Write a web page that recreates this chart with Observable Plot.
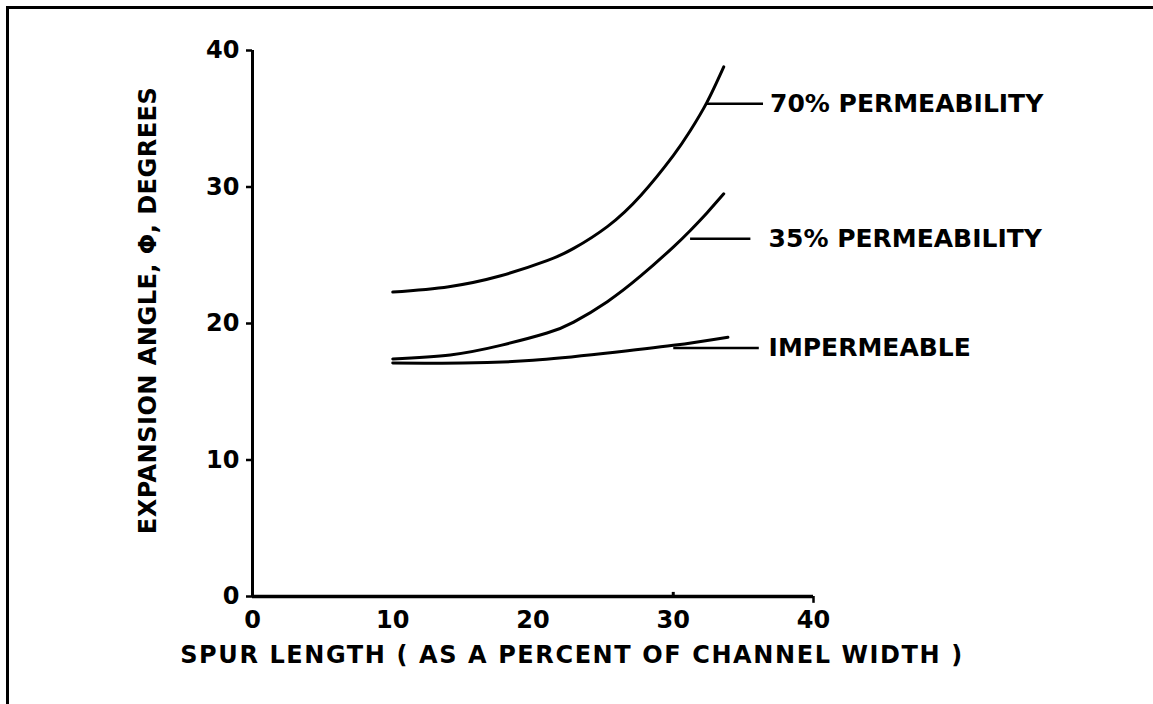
<!DOCTYPE html>
<html>
<head>
<meta charset="utf-8">
<script src="https://cdn.jsdelivr.net/npm/d3@7"></script>
<script src="https://cdn.jsdelivr.net/npm/@observablehq/plot@0.6"></script>
<style>
  html, body { margin: 0; padding: 0; background: #fff; }
  #wrap { position: relative; width: 1153px; height: 704px; overflow: hidden; }
  #border { position: absolute; left: 6px; top: 6px; right: -10px; bottom: -10px;
            border-left: 3px solid #000; border-top: 3px solid #000; pointer-events: none; }
</style>
</head>
<body>
<div id="wrap"><div id="border"></div></div>
<script>
// Data
const x70 = [10, 14, 17.7, 21, 22.9, 25.3, 27.7, 30, 31.2, 32.4, 33.6];
const y70 = [22.3, 22.7, 23.5, 24.6, 25.5, 27.1, 29.4, 32.3, 34.1, 36.2, 38.8];
const x35 = [10, 14.1, 17.7, 21, 22.9, 25.3, 27.7, 30, 31.2, 32.4, 33.6];
const y35 = [17.4, 17.7, 18.4, 19.3, 20.1, 21.6, 23.5, 25.6, 26.8, 28.1, 29.5];
const xImp = [10, 15, 20, 25, 30, 33.9];
const yImp = [17.1, 17.1, 17.3, 17.8, 18.4, 19.0];

const labelNames = ["70% PERMEABILITY", "35% PERMEABILITY", "IMPERMEABLE"];
const leaderX1 = [32.4, 31.2, 30.0];
const leaderX2 = [36.4, 35.5, 36.1];
const leaderY = [36.1, 26.2, 18.2];
const labelX = [36.9, 36.8, 36.8];

const xTicks = [0, 10, 20, 30, 40];
const yTicks = [0, 10, 20, 30, 40];
const xTitle = "SPUR LENGTH ( AS A PERCENT OF CHANNEL WIDTH )";
const yTitle = "EXPANSION ANGLE, \u03A6, DEGREES";

const toPts = (xs, ys) => xs.map((x, i) => ({x, y: ys[i]}));
const series = [toPts(x70, y70), toPts(x35, y35), toPts(xImp, yImp)];
const leaders = labelNames.map((n, i) => ({n, x1: leaderX1[i], x2: leaderX2[i], y: leaderY[i], lx: labelX[i]}));

const font = "'DejaVu Sans', sans-serif";

const chart = Plot.plot({
  width: 1153,
  height: 704,
  marginLeft: 252,
  marginRight: 340,
  marginTop: 50,
  marginBottom: 108,
  style: {fontFamily: font, fontWeight: "bold", fontSize: "24px", color: "#000", background: "transparent", overflow: "visible"},
  x: {domain: [0, 40], ticks: xTicks},
  y: {domain: [0, 40], ticks: yTicks},
  marks: [
    Plot.axisX({ticks: xTicks, tickSize: 0, tickPadding: 14, label: null, fontSize: 24, fontWeight: "bold"}),
    Plot.axisY({ticks: yTicks, tickSize: 6, tickPadding: 7, label: null, fontSize: 24, fontWeight: "bold", strokeWidth: 2.5}),
    Plot.ruleY([0], {x1: 0, x2: 40, stroke: "#000", strokeWidth: 3.5}),
    Plot.ruleX([0], {y1: 0, y2: 40, stroke: "#000", strokeWidth: 3}),
    Plot.ruleX([40], {y1: 0, y2: -0.5, stroke: "#000", strokeWidth: 2.5}),
    Plot.ruleX([30], {y1: 0, y2: 0.3, stroke: "#000", strokeWidth: 3}),
    ...series.map(s => Plot.line(s, {x: "x", y: "y", curve: "natural", stroke: "#000", strokeWidth: 3})),
    Plot.link(leaders, {x1: "x1", x2: "x2", y1: "y", y2: "y", stroke: "#000", strokeWidth: 2.5}),
    Plot.text(leaders, {x: "lx", y: "y", text: "n", textAnchor: "start", fontSize: 25, fontWeight: "bold", fill: "#000"}),
    Plot.text([xTitle], {frameAnchor: "bottom", dx: 39, dy: 59, text: d => d, fontSize: 24, fontWeight: "bold", fill: "#000", lineAnchor: "middle", textAnchor: "middle"}),
    Plot.text([yTitle], {frameAnchor: "left", dx: -104, dy: -13, rotate: -90, text: d => d, fontSize: 24, fontWeight: "bold", fill: "#000", lineAnchor: "middle", textAnchor: "middle"})
  ]
});

document.getElementById("wrap").appendChild(chart);
chart.style.position = "absolute";
chart.style.left = "0px";
chart.style.top = "0px";

// widen the axis titles to match the reference letter spacing
d3.select(chart).selectAll("text").filter(function() { return this.textContent === xTitle; })
  .attr("letter-spacing", "1.6px");
d3.select(chart).selectAll("text").filter(function() { return this.textContent === yTitle; })
  .attr("letter-spacing", "0.5px");
</script>
</body>
</html>
